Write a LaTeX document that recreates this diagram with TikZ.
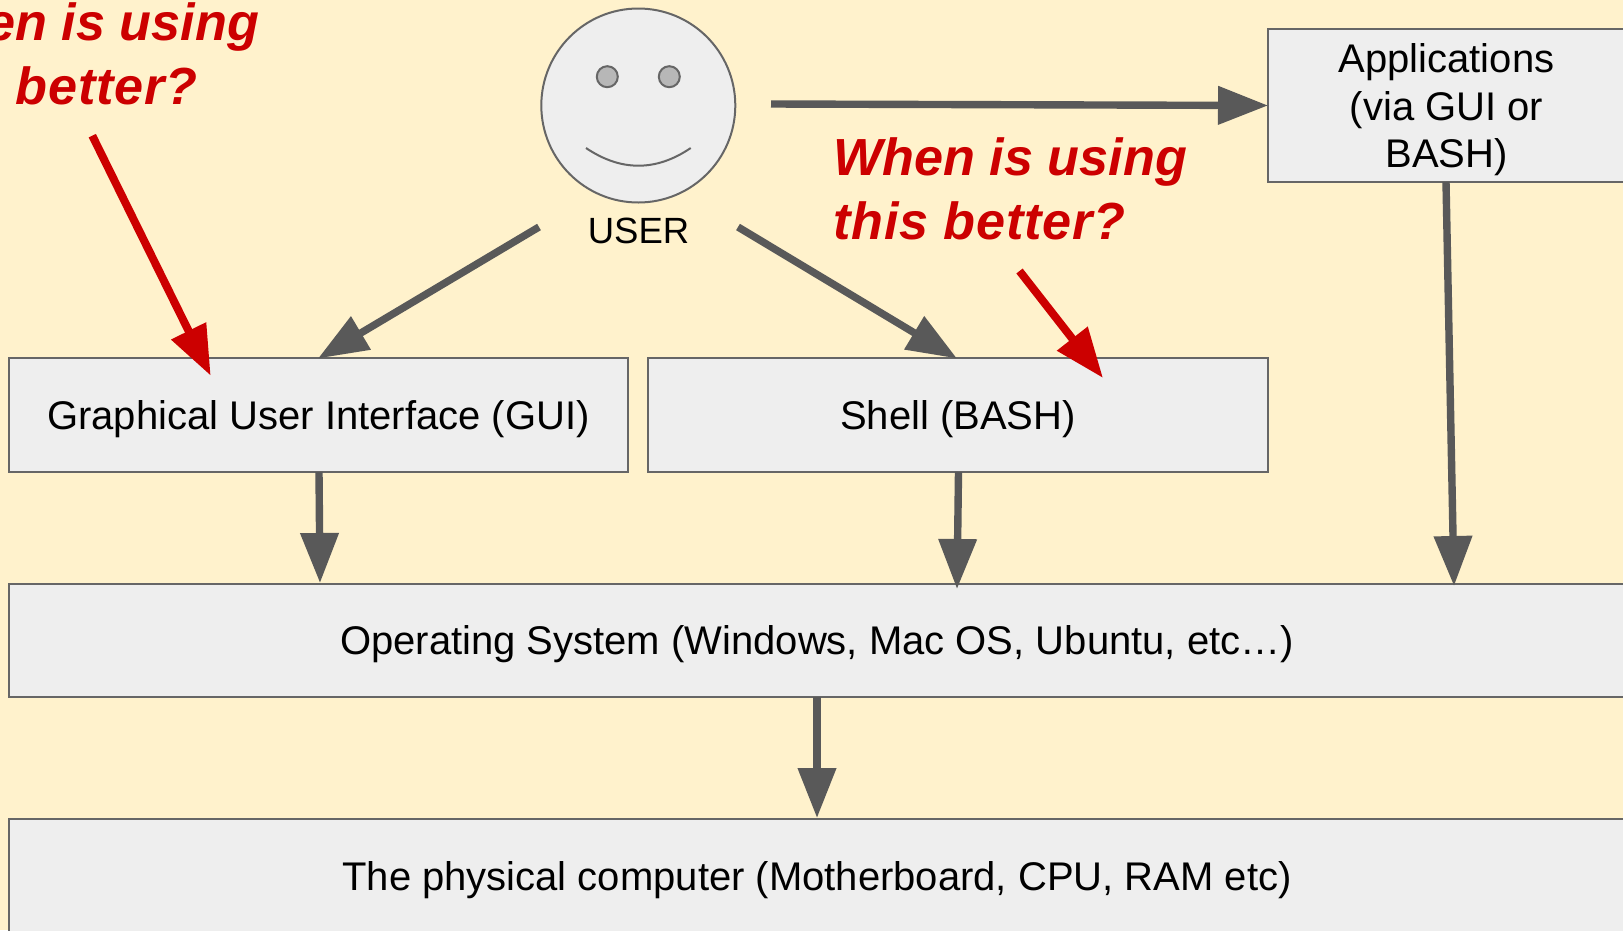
\documentclass[tikz,border=0pt]{standalone}
\usepackage{fontspec}
\setmainfont{Liberation Sans}
\usetikzlibrary{arrows.meta}
\definecolor{bgc}{HTML}{FFF2CC}
\definecolor{boxc}{HTML}{EEEEEE}
\definecolor{linec}{HTML}{595959}
\definecolor{edgec}{HTML}{666666}
\definecolor{redc}{HTML}{CC0000}
\definecolor{eyec}{HTML}{B7B7B7}
\tikzset{
  layer/.style={draw=edgec,line width=2pt,fill=boxc,inner sep=0pt,outer sep=0pt,text=black,
    font=\fontsize{40}{47.6}\selectfont,text height=29pt,text depth=1pt},
  flow/.style={draw=linec,line width=7.4pt,-{Triangle[length=50pt,width=37pt,color=linec]}},
  ask/.style={draw=redc,line width=8pt,-{Triangle[length=50pt,width=37pt,color=redc]}},
  question/.style={text=redc,anchor=base west,inner sep=0pt,align=left,
    font=\fontsize{52.2}{64}\selectfont\bfseries\itshape},
  faceline/.style={draw=edgec,line width=2pt},
}
\newcommand{\wider}[1]{{\addfontfeature{LetterSpace=1.6}#1}}
\begin{document}
\begin{tikzpicture}[x=1pt,y=-1pt]
\clip (0,0) rectangle (1623,930);
\fill[bgc] (0,0) rectangle (1623,930);
% boxes
\node[layer,minimum width=619pt,minimum height=114pt] (gui) at (318.5,415) {Graphical User Interface (GUI)};
\node[layer,minimum width=620pt,minimum height=114pt] (shell) at (958,415) {Shell (BASH)};
\node[layer,minimum width=1616pt,minimum height=113pt] (os) at (817,640.5) {Operating System (Windows, Mac OS, Ubuntu, etc\dots)};
\node[layer,minimum width=1616pt,minimum height=114pt] (hw) at (817,876) {The physical computer (Motherboard, CPU, RAM etc)};
\node[layer,minimum width=358pt,minimum height=153pt,align=center,text height=,text depth=] (apps) at (1446.5,105.5) {\rule{0pt}{38pt}Applications\\(via GUI or\\BASH)};
% face
\node[circle,draw=edgec,line width=2pt,fill=boxc,minimum size=194pt,inner sep=0pt,outer sep=0pt] (face) at (638.3,105.5) {};
\node[circle,faceline,fill=eyec,minimum size=21pt,inner sep=0pt] (eyel) at (607.3,76.7) {};
\node[circle,faceline,fill=eyec,minimum size=21pt,inner sep=0pt] (eyer) at (669.3,76.7) {};
\coordinate (smilel) at (586,148);
\coordinate (smiler) at (690.7,148);
\coordinate (smilea) at (621,171.6);
\coordinate (smileb) at (656,171.6);
\draw[faceline] (smilel) .. controls (smilea) and (smileb) .. (smiler);
\node[anchor=base,inner sep=0pt,font=\fontsize{36.5}{44}\selectfont] (user) at (638.5,243) {USER};
% connector ends
\coordinate (uL) at (539,227);
\coordinate (uR) at (738,227);
\coordinate (uA) at (771,104);
\coordinate (guiT) at (318,358.5);
\coordinate (shellT) at (957,358.5);
\coordinate (appsL) at (1268,105.5);
\coordinate (guiB) at (319,472);
\coordinate (osA) at (320,583);
\coordinate (shellB) at (958.5,472);
\coordinate (osB) at (957,589);
\coordinate (appsB) at (1446,182);
\coordinate (osC) at (1454,586);
\coordinate (osD) at (817,697);
\coordinate (hwT) at (817,818);
\draw[flow] (uA) -- (appsL);
\draw[flow] (uL) -- (guiT);
\draw[flow] (uR) -- (shellT);
\draw[flow] (guiB) -- (osA);
\draw[flow] (shellB) -- (osB);
\draw[flow] (appsB) -- (osC);
\draw[flow] (osD) -- (hwT);
% questions
\node[question] (q1) at (-95,104) {When is using\\\wider{this better?}};
\node[question] (q2) at (833,239) {When is using\\\wider{this better?}};
\coordinate (r1s) at (92.3,135.7);
\coordinate (r1e) at (210.7,375.7);
\coordinate (r2s) at (1019.5,271);
\coordinate (r2e) at (1103,378);
\draw[ask] (r1s) -- (r1e);
\draw[ask] (r2s) -- (r2e);
\end{tikzpicture}
\end{document}
